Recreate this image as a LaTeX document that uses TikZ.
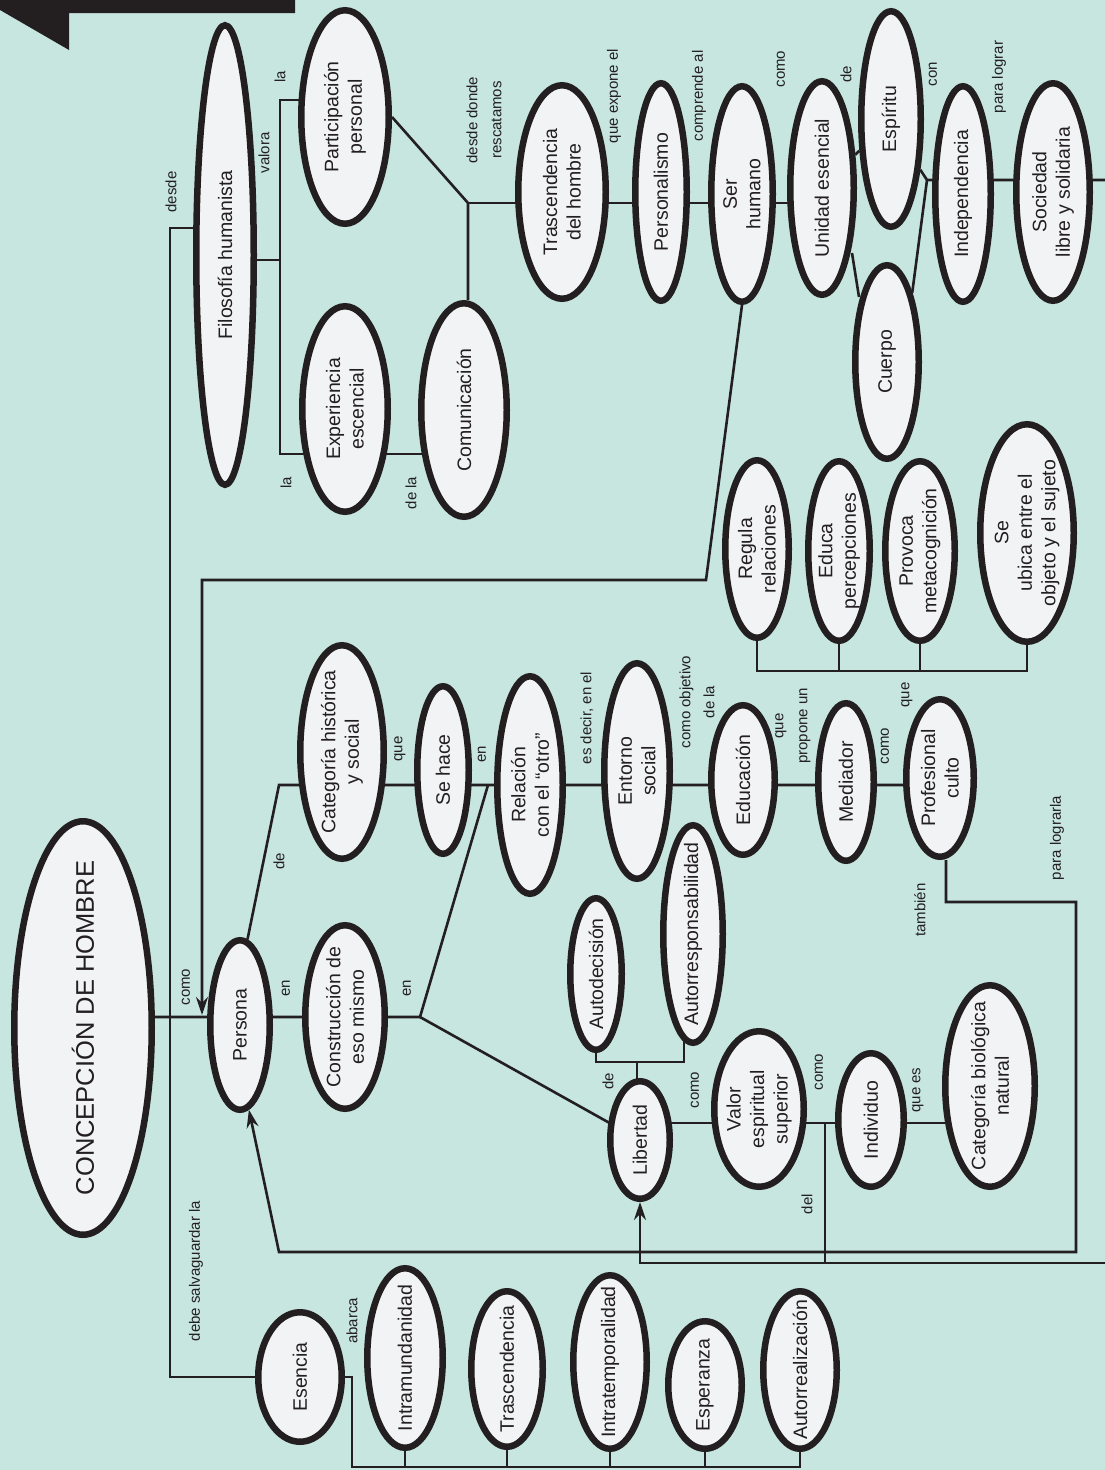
\documentclass[tikz,border=0pt]{standalone}
\usepackage{fontspec}
\setmainfont{Liberation Sans}
\usetikzlibrary{shapes.geometric,arrows.meta,calc}
\pgfdeclarelayer{bg}
\pgfsetlayers{bg,main}
\definecolor{bgc}{RGB}{199,230,224}
\definecolor{ink}{RGB}{35,31,32}
\definecolor{fillc}{RGB}{242,243,244}
\tikzset{
 bub/.style n args={2}{ellipse, draw=ink, line width=6.5pt, fill=fillc, minimum width=#1, minimum height=#2, inner sep=0pt},
 txt/.style={rotate=90, align=center, font=\fontsize{19.5}{23.5}\selectfont, text=ink, inner sep=0pt},
 bigtxt/.style={rotate=90, align=center, font=\fontsize{25.5}{30}\selectfont, text=ink, inner sep=0pt},
 lab/.style={rotate=90, align=center, font=\fontsize{15}{24}\selectfont, text=ink, inner sep=0pt},
 con/.style={draw=ink, line width=2.6pt},
 arr/.style={con, -{Stealth[length=18pt,width=12pt,inset=6pt]}},
}
\newcommand\mybub[6]{\node[bub={2*#4-6.5}{2*#5-6.5}, label={[txt]center:{#6}}] (#1) at (#2,#3) {};}
\begin{document}
\begin{tikzpicture}[x=1pt,y=-1pt]
\useasboundingbox (0,0) rectangle (1105,1470);
\begin{pgfonlayer}{bg}
\fill[bgc] (0,0) rectangle (1105,1470);
\end{pgfonlayer}
\fill[ink] (0,0) -- (295,0) -- (295,13) -- (69,13) -- (69,50) -- (0,10) -- cycle;

% nodes
\mybub{filo}{225}{255}{32}{233}{Filosofía humanista}
\mybub{part}{345}{117}{47}{110}{Participación\\personal}
\mybub{expe}{345}{409}{46}{106}{Experiencia\\escencial}
\mybub{comu}{464}{410}{46}{110}{Comunicación}
\mybub{trasc}{562}{192}{47}{110}{Trascendencia\\del hombre}
\mybub{perso}{661}{192}{29}{112}{Personalismo}
\mybub{ser}{742}{194}{34}{111}{Ser\\humano}
\mybub{unid}{822}{188}{35}{110}{Unidad esencial}
\mybub{esp}{891}{119}{33}{111}{Espíritu}
\mybub{cuerpo}{887}{362}{35}{100}{Cuerpo}
\mybub{indep}{963}{194}{31}{111}{Independencia}
\mybub{soc}{1053}{192}{40}{112}{Sociedad\\libre y solidaria}
\node[bub={2*72-6.5}{2*210-6.5}, label={[bigtxt]center:{CONCEPCIÓN DE HOMBRE}}] (conc) at (83,1028) {};
\mybub{persona}{240}{1025}{33}{88}{Persona}
\mybub{constr}{345}{1017}{43}{95}{Construcción de\\eso mismo}
\mybub{cat}{342}{752}{45}{110}{Categoría histórica\\y social}
\mybub{sehace}{443}{770}{29}{87}{Se hace}
\mybub{rel}{530}{785}{36}{112}{Relación\\con el “otro”}
\mybub{ent}{637}{771}{36}{111}{Entorno\\social}
\mybub{educ}{743}{780}{35}{78}{Educación}
\mybub{med}{846}{782}{31}{82}{Mediador}
\mybub{prof}{940}{778}{37}{82}{Profesional\\culto}
\mybub{lib}{640}{1140}{33}{62}{Libertad}
\mybub{autod}{596}{974}{29}{79}{Autodecisión}
\mybub{autor}{693}{934}{33}{112}{Autorresponsabilidad}
\mybub{valor}{759}{1109}{48}{81}{Valor\\espiritual\\superior}
\mybub{indiv}{871}{1120}{36}{70}{Individuo}
\mybub{cbn}{990}{1086}{48}{104}{Categoría biológica\\natural}
\mybub{reg}{757}{549}{35}{92}{Regula\\relaciones}
\mybub{educa}{839}{551}{34}{93}{Educa\\percepciones}
\mybub{prov}{920}{551}{38}{93}{Provoca\\metacognición}
\mybub{ubica}{1027}{533}{50}{112}{Se\\ubica entre el\\objeto y el sujeto}
\mybub{esen}{300}{1377}{45}{68}{Esencia}
\mybub{intram}{405}{1358}{41}{93}{Intramundanidad}
\mybub{trasc2}{507}{1369}{39}{81}{Trascendencia}
\mybub{intrat}{610}{1362}{40}{90}{Intratemporalidad}
\mybub{esper}{705}{1385}{40}{67}{Esperanza}
\mybub{autorr}{800}{1370}{40}{82}{Autorrealización}

% connector labels
\node[lab] (l1) at (171,192) {desde};
\node[lab] (l2) at (264,153) {valora};
\node[lab] (l3) at (280,77) {la};
\node[lab] (l4) at (484,120) {desde donde\\rescatamos};
\node[lab] (l5) at (286,483) {la};
\node[lab] (l6) at (411,493) {de la};
\node[lab] (l7) at (614,96) {que expone el};
\node[lab] (l8) at (699,96) {comprende al};
\node[lab] (l9) at (781,69) {como};
\node[lab] (l10) at (846,74) {de};
\node[lab] (l11) at (933,74) {con};
\node[lab] (l12) at (999,77) {para lograr};
\node[lab] (l13) at (186,987) {como};
\node[lab] (l14) at (286,988) {en};
\node[lab] (l15) at (407,988) {en};
\node[lab] (l16) at (196,1271) {debe salvaguardar la};
\node[lab] (l17) at (352,1321) {abarca};
\node[lab] (l18) at (279,861) {de};
\node[lab] (l19) at (400,749) {que};
\node[lab] (l20) at (482,754) {en};
\node[lab] (l21) at (587,718) {es decir, en el};
\node[lab] (l22) at (697,702) {como objetivo\\de la};
\node[lab] (l23) at (793,726) {que\\propone un};
\node[lab] (l24) at (885,746) {como};
\node[lab] (l25) at (907,695) {que};
\node[lab] (l26) at (1057,838) {para lograrla};
\node[lab] (l27) at (920,910) {también};
\node[lab] (l28) at (608,1081) {de};
\node[lab] (l29) at (695,1090) {como};
\node[lab] (l30) at (819,1072) {como};
\node[lab] (l31) at (918,1090) {que es};
\node[lab] (l32) at (807,1204) {del};

% junction coordinates
\coordinate (jv1) at (280,100);
\coordinate (jv2) at (280,260);
\coordinate (jv3) at (280,454);
\coordinate (jd1) at (170,228);
\coordinate (jd2) at (170,1377);
\coordinate (jt) at (468,203);
\coordinate (ji) at (927,180);
\coordinate (jr1) at (1105,180);
\coordinate (js1) at (706,580);
\coordinate (js2) at (202,580);
\coordinate (je) at (420,1017);
\coordinate (jr) at (488,785);
\coordinate (jk) at (279,785);
\coordinate (jp1) at (946,902);
\coordinate (jp2) at (1076,902);
\coordinate (jp3) at (1076,1252);
\coordinate (jp4) at (279,1252);
\coordinate (jl1) at (637,1062);
\coordinate (jl2) at (684,1062);
\coordinate (jx) at (825,1123);
\coordinate (jq1) at (1105,1263);
\coordinate (jb) at (757,671);
\coordinate (jz1) at (352,1467);

\begin{pgfonlayer}{bg}
\draw[con] (filo.center |- jv2) -- (jv2);
\draw[con] (part.center |- jv1) -- (jv1) -- (jv3) -- (comu.center |- jv3);
\draw[con] (filo.center |- jd1) -- (jd1) -- (jd2) -- (esen.center);
\draw[con] (part.east) -- (jt) -- (jt |- comu.north);
\draw[con] (jt) -- (unid.center |- jt);
\draw[con] (unid) -- (esp);
\draw[con] ($(unid.center)+(30,65)$) -- ($(cuerpo.center)+(-28,-65)$);
\draw[con] (esp.-60) -- (ji) -- (jr1);
\draw[con] (cuerpo.70) -- (ji);
\draw[arr] (ser.south) -- (js1) -- (js2) -- ($(persona.west)+(-5,-10)$);
\draw[con] (persona.85) -- (jk) -- (prof.center |- jk);
\draw[con] (conc.center |- je) -- (je) -- (jr);
\draw[con] (je) -- (lib.center);
\draw[arr] (prof.south -| jp1) -- (jp1) -- (jp2) -- (jp3) -- (jp4) -- (persona.-84);
\draw[con] (autod.center) -- (autod.center |- jl1) -- (jl2) -- (jl2 |- autor.center);
\draw[con] (jl1) -- (jl1 |- lib.center);
\draw[con] (lib.center |- jx) -- (cbn.center |- jx);
\draw[con] (jx) -- (jx |- jq1);
\draw[arr] (jq1) -- (jq1 -| lib.south) -- (lib.south);
\draw[con] (reg.center) -- (reg.center |- jb) -- (ubica.center |- jb) -- (ubica.center);
\draw[con] (educa.center) -- (educa.center |- jb);
\draw[con] (prov.center) -- (prov.center |- jb);
\draw[con] (esen.center) -- (esen.center -| jz1) -- (jz1) -- (autorr.center |- jz1) -- (autorr.center);
\draw[con] (intram.center) -- (intram.center |- jz1);
\draw[con] (trasc2.center) -- (trasc2.center |- jz1);
\draw[con] (intrat.center) -- (intrat.center |- jz1);
\draw[con] (esper.center) -- (esper.center |- jz1);
\end{pgfonlayer}
\end{tikzpicture}
\end{document}
